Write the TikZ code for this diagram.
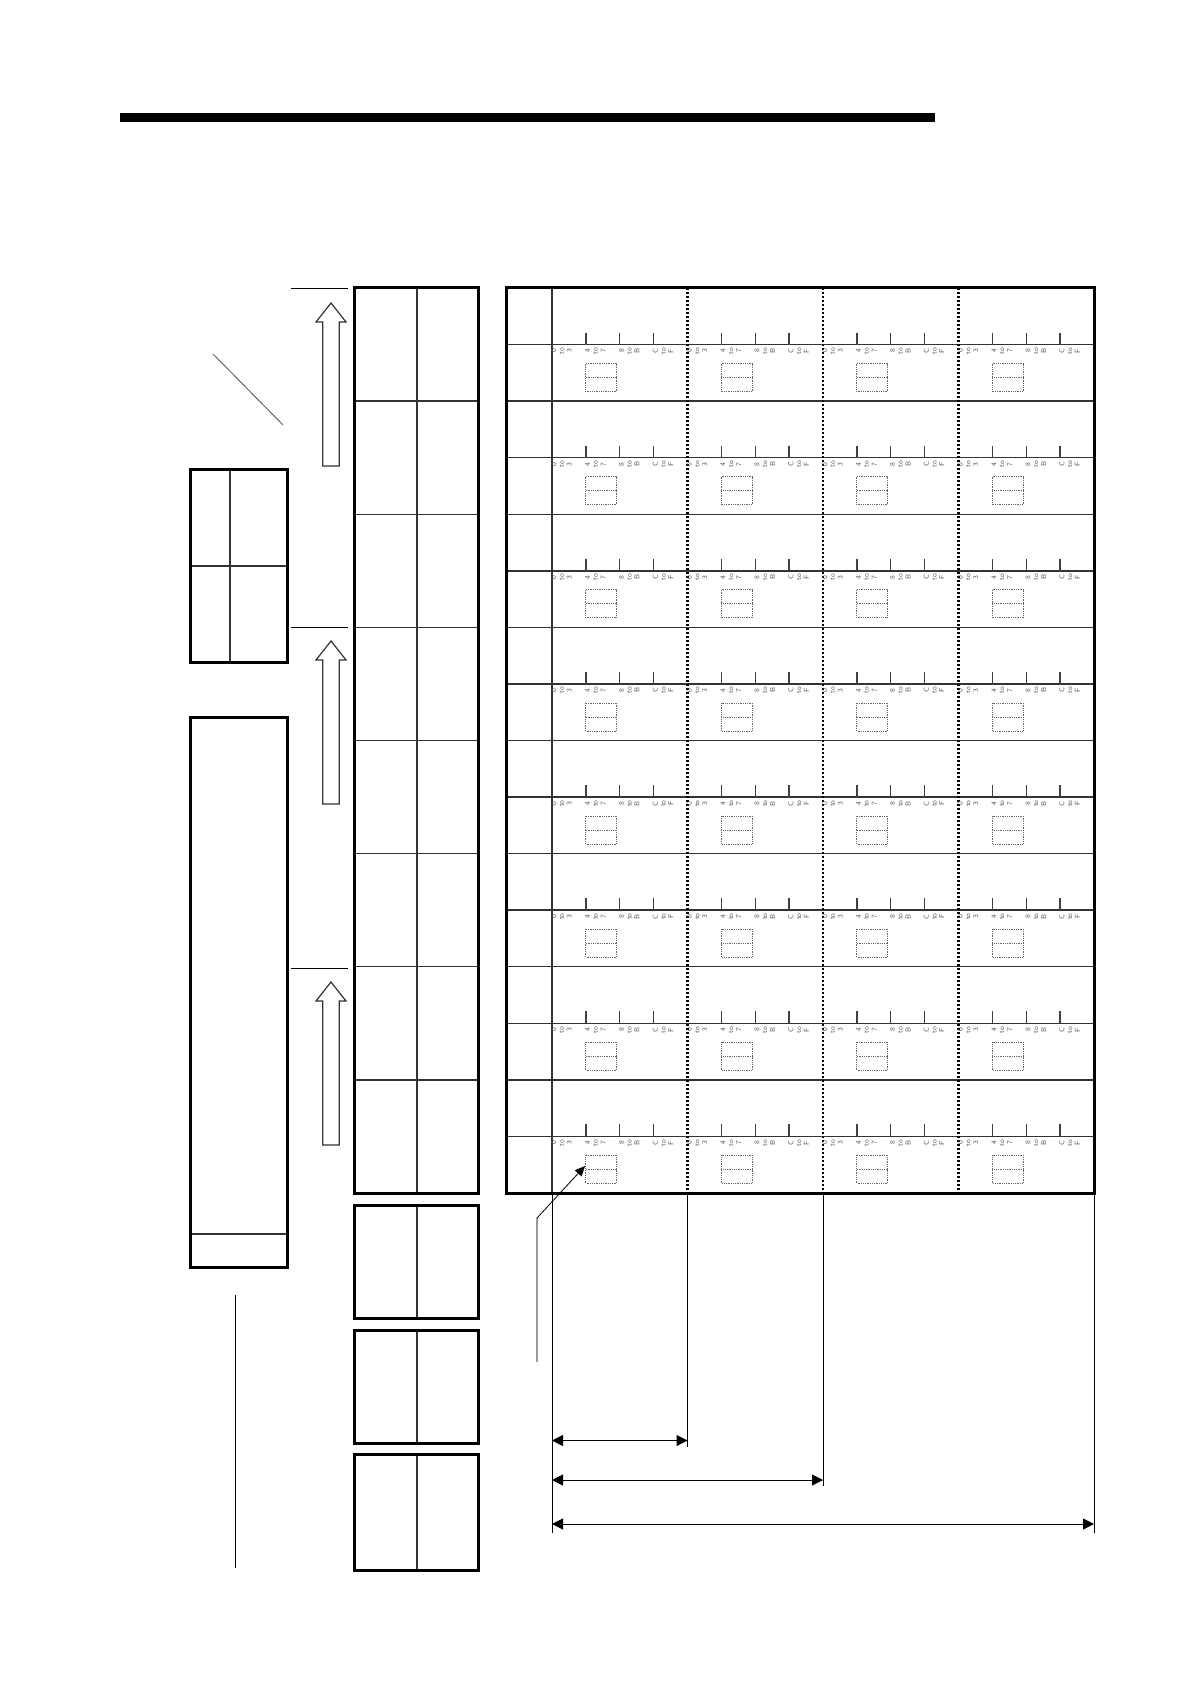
\documentclass[tikz,border=0pt]{standalone}
\usetikzlibrary{arrows.meta}

\tikzset{
  heavy/.style={line width=1.5pt},
  rule/.style={line width=0.7pt, black!80},
  fine/.style={line width=0.5pt},
  dotcol/.style={line width=1.1pt, dash pattern=on 1pt off 1pt},
  dotbox/.style={line width=0.4pt, black!60, dash pattern=on 0.4pt off 0.5pt},
  bitlbl/.style={rotate=90, align=center, inner sep=0pt, text=black!65,
    font=\sffamily\fontsize{3.6}{3.9}\selectfont},
  dimline/.style={fine, {Triangle[length=5.5pt,width=5.5pt]}-{Triangle[length=5.5pt,width=5.5pt]}},
  hollow/.style={line width=0.6pt, black!80},
}

\begin{document}
\begin{tikzpicture}[x=0.5pt, y=-0.5pt]
    \useasboundingbox (0,0) rectangle (1190,1684);

    % heading rule
    \fill (120,113) rectangle (935,122);

    % small boxes on the far left
    \draw[rule] (230,469) -- (230,662) (190,566) -- (287,566);
    \draw[heavy] (190,469) rectangle (287,662);
    \draw[rule] (190,1234) -- (287,1234);
    \draw[heavy] (190,717) rectangle (287,1267);
    \draw[fine] (235,1295) -- (235,1568);
    \draw[fine, black!60] (213,354) -- (283,425);

    % block arrows
    \foreach \t/\n in {289/a, 627/b, 968/c} {
        \draw[fine] (291,\t) -- (348,\t);
        \draw[hollow] (331,\t+14) -- (346,\t+33) -- (339.3,\t+33) -- (339.3,\t+177)
            -- (322.7,\t+177) -- (322.7,\t+33) -- (316,\t+33) -- cycle;
    }

    % stack of cells
    \draw[rule] (417,288) -- (417,1193);
    \foreach \k in {1,...,7}
        \draw[rule] (354,{288+\k*113.125}) -- (478,{288+\k*113.125});
    \draw[heavy] (354,288) rectangle (478,1193);
    \foreach \top/\bot in {1205/1318, 1330/1443, 1454/1570} {
        \draw[rule] (417,\top) -- (417,\bot);
        \draw[heavy] (354,\top) rectangle (478,\bot);
    }

    % main table
    \draw[rule] (552,288) -- (552,1193);
    \foreach \r in {1,...,15}
        \draw[rule] (506,{288+\r*56.5625}) -- (1094,{288+\r*56.5625});
    \foreach \c in {1,2,3}
        \draw[dotcol] ({552+\c*135.5},288) -- ({552+\c*135.5},1193);

    \foreach \p in {0,...,7} {
        \pgfmathsetmacro\mid{288+(2*\p+1)*56.5625}
        \foreach \c in {0,...,3} {
            \pgfmathsetmacro\cx{552+\c*135.5}
            \foreach \q in {1,2,3}
                \draw[line width=0.7pt, black!75] ({\cx+\q*33.875},\mid-12) -- ({\cx+\q*33.875},\mid);
            \foreach \q/\a/\b in {0/0/3, 1/4/7, 2/8/B, 3/C/F}
                \node[bitlbl] (lbl\p\c\q) at ({\cx+\q*33.875+9.5},\mid+6.5) {\a\\to\\\b};
            \draw[dotbox] ({\cx+33.875},\mid+19) rectangle ({\cx+64.875},\mid+47);
            \draw[dotbox] ({\cx+33.875},\mid+33) -- ({\cx+64.875},\mid+33);
        }
    }
    \draw[heavy] (506,288) rectangle (1094,1193);

    % pointer to the first box
    \coordinate (ptrfoot) at (537,1362);
    \coordinate (ptrbend) at (537,1218);
    \coordinate (ptrtip) at (585,1166);
    \draw[line width=0.6pt, black!40] (ptrfoot) -- (ptrbend);
    \draw[line width=0.4pt, -{Triangle[length=5pt,width=4.5pt]}] (ptrbend) -- (ptrtip);

    % dimension lines
    \coordinate (ext0) at (552,1533);
    \coordinate (ext1) at (687.5,1447);
    \coordinate (ext2) at (823,1486);
    \coordinate (ext4) at (1094,1533);
    \draw[fine] (552,1193) -- (ext0) (687.5,1193) -- (ext1)
        (823,1193) -- (ext2) (1094,1193) -- (ext4);
    \draw[dimline] (552,1440.5) -- (687.5,1440.5);
    \draw[dimline] (552,1480) -- (823,1480);
    \draw[dimline] (552,1524) -- (1094,1524);
\end{tikzpicture}
\end{document}
